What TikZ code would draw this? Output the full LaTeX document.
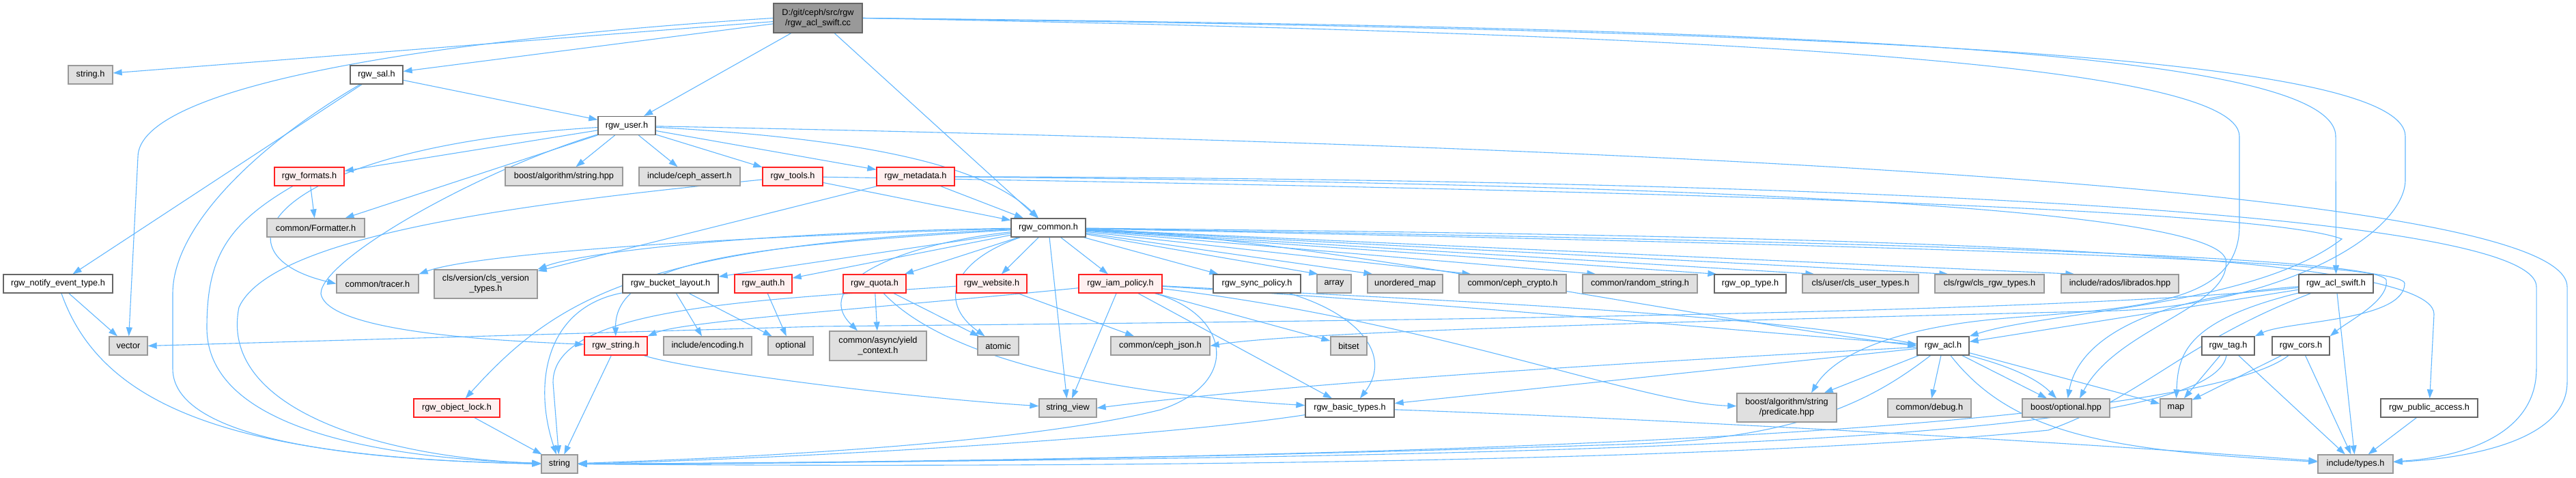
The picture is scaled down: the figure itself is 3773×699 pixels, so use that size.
\documentclass[tikz,border=0pt]{standalone}
\usepackage{fontspec}
\setmainfont{Liberation Sans}
\usetikzlibrary{arrows.meta}
\pgfdeclarelayer{bg}
\pgfsetlayers{bg,main}
\definecolor{edgec}{HTML}{63B8FF}
\definecolor{gfill}{HTML}{E0E0E0}
\definecolor{gborder}{HTML}{999999}
\definecolor{wborder}{HTML}{666666}
\definecolor{rfill}{HTML}{FFF0F0}
\definecolor{rborder}{HTML}{FF2020}
\definecolor{rootfill}{HTML}{999999}
\begin{document}
\begin{tikzpicture}[x=1pt,y=-1pt,
  nb/.style={rectangle, inner xsep=2pt, inner ysep=0pt, minimum height=27pt, line width=1.3pt, font=\fontsize{12.7}{15}\selectfont, align=center, text=black},
  gnode/.style={nb, draw=gborder, fill=gfill},
  wnode/.style={nb, draw=wborder, fill=white},
  rnode/.style={nb, draw=rborder, fill=rfill},
  rootnode/.style={nb, draw=wborder, fill=rootfill},
  edge/.style={draw=edgec, line width=1.1pt, -{Triangle[length=13pt,width=9pt]}}]
\useasboundingbox (0,0) rectangle (3773,699);
\begin{pgfonlayer}{bg}
\fill[white] (0,0) rectangle (3773,699);
\end{pgfonlayer}
% nodes
\node[rootnode, minimum width=130pt, minimum height=43pt] (root) at (1198,26.5) {D:/git/ceph/src/rgw\\/rgw\_acl\_swift.cc};
\node[gnode, minimum width=65pt] (stringh) at (132.5,109.5) {string.h};
\node[wnode, minimum width=77pt] (sal) at (551.5,109.5) {rgw\_sal.h};
\node[wnode, minimum width=84pt] (user) at (918,184) {rgw\_user.h};
\node[rnode, minimum width=102pt] (formats) at (453,258.5) {rgw\_formats.h};
\node[gnode, minimum width=143pt] (formatter) at (462.5,333.5) {common/Formatter.h};
\node[gnode, minimum width=172pt] (boostalg) at (826,258.5) {boost/algorithm/string.hpp};
\node[gnode, minimum width=148pt] (cephassert) at (1010,258.5) {include/ceph\_assert.h};
\node[rnode, minimum width=88pt] (tools) at (1161,258.5) {rgw\_tools.h};
\node[rnode, minimum width=114pt] (metadata) at (1341,258.5) {rgw\_metadata.h};
\node[wnode, minimum width=109pt] (common) at (1535.5,333.5) {rgw\_common.h};
\node[wnode, minimum width=160pt] (notify) at (85,415.5) {rgw\_notify\_event\_type.h};
\node[gnode, minimum width=56pt] (vector) at (188,506.5) {vector};
\node[gnode, minimum width=120pt] (tracer) at (553,415.5) {common/tracer.h};
\node[gnode, minimum width=151pt, minimum height=42pt] (clsversion) at (711.5,416) {cls/version/cls\_version\\\_types.h};
\node[wnode, minimum width=140pt] (bucketlayout) at (982,415.5) {rgw\_bucket\_layout.h};
\node[rnode, minimum width=84pt] (auth) at (1118,415.5) {rgw\_auth.h};
\node[rnode, minimum width=92pt] (quota) at (1281,415.5) {rgw\_quota.h};
\node[rnode, minimum width=103pt] (website) at (1452.5,415.5) {rgw\_website.h};
\node[rnode, minimum width=122pt] (iam) at (1641,415.5) {rgw\_iam\_policy.h};
\node[wnode, minimum width=128pt] (syncpolicy) at (1841,415.5) {rgw\_sync\_policy.h};
\node[gnode, minimum width=50pt] (array) at (1954,415.5) {array};
\node[gnode, minimum width=110pt] (unorderedmap) at (2058,415.5) {unordered\_map};
\node[gnode, minimum width=157pt] (cephcrypto) at (2215.5,415.5) {common/ceph\_crypto.h};
\node[gnode, minimum width=168pt] (randomstring) at (2402,415.5) {common/random\_string.h};
\node[wnode, minimum width=105pt] (optype) at (2563.5,415.5) {rgw\_op\_type.h};
\node[gnode, minimum width=170pt] (clsuser) at (2725,415.5) {cls/user/cls\_user\_types.h};
\node[gnode, minimum width=160pt] (clsrgw) at (2914,415.5) {cls/rgw/cls\_rgw\_types.h};
\node[gnode, minimum width=172pt] (librados) at (3105,415.5) {include/rados/librados.hpp};
\node[wnode, minimum width=109pt] (aclswift) at (3421.5,415.5) {rgw\_acl\_swift.h};
\node[rnode, minimum width=92pt] (rgwstring) at (902,506.5) {rgw\_string.h};
\node[gnode, minimum width=129pt] (encoding) at (1036.5,506.5) {include/encoding.h};
\node[gnode, minimum width=66pt] (optional) at (1158,506.5) {optional};
\node[gnode, minimum width=142pt, minimum height=43pt] (yield) at (1286,506.5) {common/async/yield\\\_context.h};
\node[gnode, minimum width=60pt] (atomic) at (1462,506.5) {atomic};
\node[gnode, minimum width=145pt] (cephjson) at (1699.5,506.5) {common/ceph\_json.h};
\node[gnode, minimum width=53pt] (bitset) at (1975.5,506.5) {bitset};
\node[wnode, minimum width=76pt] (acl) at (2846,506.5) {rgw\_acl.h};
\node[wnode, minimum width=77pt] (tag) at (3263.5,506.5) {rgw\_tag.h};
\node[wnode, minimum width=84pt] (cors) at (3370,506.5) {rgw\_cors.h};
\node[rnode, minimum width=126pt] (objectlock) at (669,597.5) {rgw\_object\_lock.h};
\node[gnode, minimum width=84pt] (stringview) at (1564,597.5) {string\_view};
\node[wnode, minimum width=130pt] (basictypes) at (1977,597.5) {rgw\_basic\_types.h};
\node[gnode, minimum width=146pt, minimum height=42pt] (predicate) at (2617,597) {boost/algorithm/string\\/predicate.hpp};
\node[gnode, minimum width=122pt] (debug) at (2826,597.5) {common/debug.h};
\node[gnode, minimum width=128pt] (boostoptional) at (3026,597.5) {boost/optional.hpp};
\node[gnode, minimum width=46pt] (map) at (3187,597.5) {map};
\node[wnode, minimum width=142pt] (publicaccess) at (3558,597.5) {rgw\_public\_access.h};
\node[gnode, minimum width=53pt] (string) at (819.5,679.5) {string};
\node[gnode, minimum width=110pt] (types) at (3450,679.5) {include/types.h};
% edges
\begin{pgfonlayer}{bg}
% root
\draw[edge] (root) -- (stringh);
\draw[edge] (root.west) .. controls (600,60) and (202,130) .. (202,230) -- (vector);
\draw[edge] (root) -- (sal);
\draw[edge] (root) -- (user);
\draw[edge] (root) -- (common);
\draw[edge] (root.east) .. controls (2600,40) and (3421,70) .. (3421,200) -- (aclswift);
\draw[edge] (root.east) .. controls (2700,45) and (3523,80) .. (3523,200) -- (3523,263) .. controls (3523,340) and (3350,445) .. (3100,455) .. controls (2500,470) and (1900,485) .. (cephjson.east);
\draw[edge] (root.east) .. controls (2500,50) and (3280,90) .. (3280,200) -- (3280,330) .. controls (3280,440) and (3150,450) .. (2950,465) .. controls (2750,480) and (2680,530) .. ([xshift=36pt]predicate.north);
% sal
\draw[edge] (sal) -- (user);
\draw[edge] (sal) -- (notify);
\draw[edge] (sal) .. controls (380,210) and (253,330) .. (253,430) -- (253,540) .. controls (253,650) and (550,675) .. (string);
% user
\draw[edge] (user) -- (formats);
\draw[edge] (user) -- (formatter);
\draw[edge] (user) .. controls (400,215) and (300,370) .. (tracer.west);
\draw[edge] (user) -- (boostalg);
\draw[edge] (user) -- (cephassert);
\draw[edge] (user) -- (tools);
\draw[edge] (user) -- (metadata);
\draw[edge] (user) .. controls (1300,205) and (1450,250) .. (common);
\draw[edge] (user) .. controls (700,250) and (470,380) .. (470,430) .. controls (480,490) and (760,500) .. (rgwstring);
\draw[edge] (user) .. controls (2500,215) and (3760,280) .. (3760,420) -- (3760,560) .. controls (3760,650) and (3600,672) .. (types);
% formats
\draw[edge] (formats) -- (formatter);
\draw[edge] (formats) .. controls (330,330) and (303,380) .. (303,480) .. controls (303,640) and (600,672) .. (string);
% tools
\draw[edge] (tools) -- (common);
\draw[edge] (tools) .. controls (800,295) and (400,340) .. (350,450) .. controls (320,600) and (560,670) .. (string);
\draw[edge] (tools) .. controls (2200,275) and (3300,300) .. (3430,350) .. controls (3300,450) and (3000,455) .. (acl.north east);
% metadata
\draw[edge] (metadata) -- (common);
\draw[edge] (metadata) -- (clsversion);
\draw[edge] (metadata) .. controls (2500,262) and (3715,300) .. (3715,420) -- (3715,540) .. controls (3715,640) and (3600,670) .. (types);
\draw[edge] (metadata) .. controls (2400,268) and (3240,300) .. (3260,380) .. controls (3270,450) and (3100,480) .. ([xshift=20pt]boostoptional.north);
% common
\draw[edge] (common) .. controls (1100,345) and (700,370) .. (tracer.north east);
\draw[edge] (common) .. controls (1100,340) and (850,370) .. (clsversion.north east);
\draw[edge] (common) -- (bucketlayout);
\draw[edge] (common) -- (auth);
\draw[edge] (common) -- (quota);
\draw[edge] (common) .. controls (1300,360) and (1190,420) .. ([xshift=-30pt]yield.north);
\draw[edge] (common) -- (website);
\draw[edge] (common) .. controls (1400,380) and (1370,440) .. (atomic);
\draw[edge] (common) -- (stringview);
\draw[edge] (common) -- (iam);
\draw[edge] (common) -- ([xshift=8pt]syncpolicy.north west);
\draw[edge] (common) -- ([xshift=2pt]array.north west);
\draw[edge] (common) -- ([xshift=8pt]unorderedmap.north west);
\draw[edge] (common) -- ([xshift=18pt]cephcrypto.north west);
\draw[edge] (common) -- ([xshift=20pt]randomstring.north west);
\draw[edge] (common) -- ([xshift=4pt]optype.north west);
\draw[edge] (common) -- ([xshift=18pt]clsuser.north west);
\draw[edge] (common) -- ([xshift=20pt]clsrgw.north west);
\draw[edge] (common) -- ([xshift=20pt]librados.north west);
\draw[edge] (common) .. controls (1900,345) and (2500,470) .. (acl.west);
\draw[edge] (common) .. controls (2500,350) and (3480,370) .. (3495,410) .. controls (3500,440) and (3440,470) .. (cors.north east);
\draw[edge] (common) .. controls (2500,355) and (3520,375) .. (3522,415) .. controls (3522,470) and (3350,470) .. (tag.north east);
\draw[edge] (common) .. controls (2600,345) and (3565,360) .. (3565,460) -- (publicaccess);
\draw[edge] (common) .. controls (1100,360) and (900,380) .. (rgwstring);
\draw[edge] (common) .. controls (950,360) and (820,430) .. (objectlock);
% bucket layout
\draw[edge] (bucketlayout) .. controls (800,450) and (780,560) .. (string);
\draw[edge] (bucketlayout) -- (encoding);
\draw[edge] (bucketlayout) -- (optional);
\draw[edge] (auth) -- (optional);
% quota
\draw[edge] (quota) -- (yield);
\draw[edge] (quota) -- (atomic);
\draw[edge] (quota) .. controls (1380,520) and (1600,575) .. (basictypes);
% website
\draw[edge] (website) -- (cephjson);
\draw[edge] (website) .. controls (1100,440) and (810,450) .. (810,560) -- (string);
% iam
\draw[edge] (iam) -- (stringview);
\draw[edge] (iam) -- (bitset);
\draw[edge] (iam) .. controls (1300,450) and (1000,470) .. (rgwstring.north east);
\draw[edge] (iam) .. controls (1800,460) and (1820,560) .. (1700,600) .. controls (1500,650) and (1100,670) .. (string);
\draw[edge] (iam) -- (basictypes);
\draw[edge] (iam) .. controls (2100,470) and (2400,590) .. (predicate);
\draw[edge] (iam) .. controls (2300,450) and (2900,470) .. (boostoptional);
\draw[edge] (iam) .. controls (2200,450) and (2600,490) .. (acl);
% sync policy
\draw[edge] (syncpolicy) .. controls (1990,460) and (2040,520) .. ([xshift=15pt]basictypes.north);
% rgw_string
\draw[edge] (rgwstring) -- (string);
\draw[edge] (rgwstring) .. controls (1000,540) and (1300,580) .. (stringview);
\draw[edge] (objectlock) -- (string);
% notify
\draw[edge] (notify) -- (vector);
\draw[edge] (notify) .. controls (150,600) and (350,670) .. (string.west);
% acl
\draw[edge] (acl) -- (predicate);
\draw[edge] (acl) -- (debug);
\draw[edge] (acl) -- (boostoptional);
\draw[edge] (acl) -- (map);
\draw[edge] (acl) .. controls (2950,640) and (3100,660) .. (types);
\draw[edge] (acl) .. controls (2750,580) and (2650,640) .. (2400,650) .. controls (1800,670) and (1200,680) .. (string.east);
\draw[edge] (acl) .. controls (2400,530) and (1900,560) .. (stringview.east);
\draw[edge] (acl) -- (basictypes);
% acl swift
\draw[edge] (aclswift) -- (types);
\draw[edge] (aclswift) .. controls (3200,470) and (3190,520) .. (map);
\draw[edge] (aclswift) -- (acl);
\draw[edge] (aclswift) .. controls (3100,440) and (3040,520) .. (boostoptional);
\draw[edge] (aclswift) .. controls (3000,460) and (2000,470) .. (1200,478) -- (vector.east);
\draw[edge] (aclswift) .. controls (3200,500) and (3140,580) .. (3000,630) .. controls (2500,680) and (1500,685) .. (string.east);
% tag, cors, public access
\draw[edge] (tag) -- (map);
\draw[edge] (tag) -- (types);
\draw[edge] (tag) .. controls (3240,640) and (2500,670) .. (string.east);
\draw[edge] (cors) -- (map);
\draw[edge] (cors) -- (types);
\draw[edge] (cors) .. controls (3250,600) and (2600,670) .. (string.east);
\draw[edge] (publicaccess) -- (types);
% basic types
\draw[edge] (basictypes) .. controls (1700,640) and (1200,670) .. (string.east);
\draw[edge] (basictypes) .. controls (2600,620) and (3200,660) .. (types);
\end{pgfonlayer}
\end{tikzpicture}
\end{document}
